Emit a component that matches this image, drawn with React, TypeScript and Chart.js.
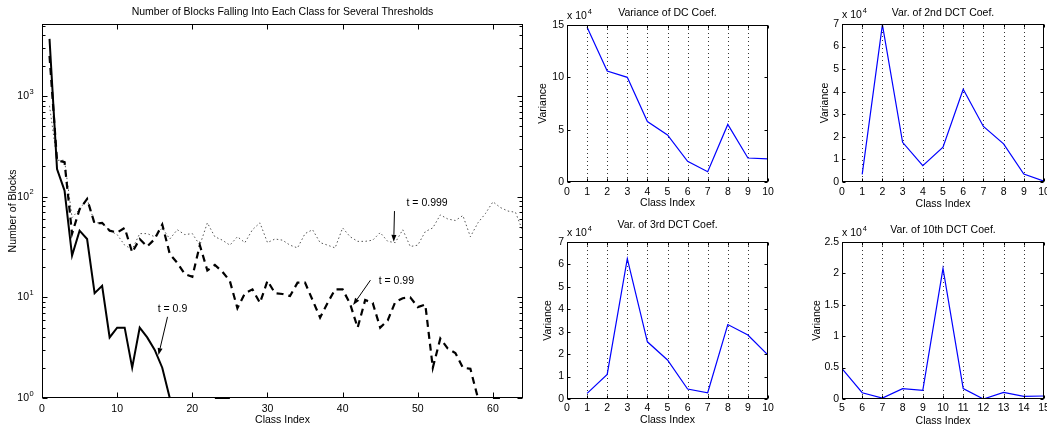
import React, { useEffect, useRef } from 'react';
import { Chart, registerables } from 'chart.js';

Chart.register(...registerables);

const FONT = "'Liberation Sans', Arial, Helvetica, sans-serif";
const FS = 10.5;
Chart.defaults.font.family = FONT;
Chart.defaults.font.size = FS;
Chart.defaults.color = '#000';

// ---------- main plot data ----------
const mainClassIndex = [
  1, 2, 3, 4, 5, 6, 7, 8, 9, 10, 11, 12, 13, 14, 15, 16, 17, 18, 19, 20, 21, 22, 23, 24, 25, 26, 27, 28, 29, 30, 31, 32,
  33, 34, 35, 36, 37, 38, 39, 40, 41, 42, 43, 44, 45, 46, 47, 48, 49, 50, 51, 52, 53, 54, 55, 56, 57, 58, 59, 60, 61, 62, 63, 64,
];
const blocksT09: (number | null)[] = [
  3700, 188, 115, 26, 46, 38, 11, 13, 4, 5, 5, 2, 5, 4, 3, 2, 1, null, null, null, null, null, 1, 1, 1, null, null, null, null, null, null, null,
  null, null, null, null, null, null, null, null, null, null, null, null, null, null, null, null, null, null, null, null, null, null, null, null, null, null, null, null, null, null, null, null,
];
const blocksT099: (number | null)[] = [
  2500, 230, 220, 43, 75, 95, 54, 55, 46, 44, 49, 28, 38, 32, 38, 53, 27, 22, 17, 16, 33, 18.5, 21, 18, 14.5, 7.8, 11, 12, 8.8, 14.6, 11, 10.8,
  10.3, 14, 14, 9.4, 6.3, 8.8, 12, 12, 8.6, 5, 9.4, 8.8, 5, 5.9, 9, 9.8, 10, 8, 8.5, 2, 3.9, 3.1, 2.8, 2, 1.95, 1, null, 1, 1, null, null, null,
];
const blocksT0999: (number | null)[] = [
  800, 230, 230, 62, 75, 95, 55, 55, 46, 42, 33, 30, 43, 43, 40, 49, 38, 47, 42, 43, 33, 55, 40, 37, 33, 40, 35, 47, 55, 35, 38, 37,
  33, 31, 43, 47, 35, 33, 31, 49, 40, 36, 36, 37, 44, 36, 35, 47, 32, 33, 45, 49, 66, 60, 58, 65, 40, 55, 68, 89, 78, 72, 70, 45,
];
const mainXTicks = [0, 10, 20, 30, 40, 50, 60];
const mainYTicks = [1, 10, 100, 1000];
const mainYTickBase = '10';
const mainYTickExponents = ['0', '1', '2', '3'];
const mainYMinorMultipliers = [2, 3, 4, 5, 6, 7, 8, 9];

// ---------- small plots data ----------
const classIdx1to10 = [1, 2, 3, 4, 5, 6, 7, 8, 9, 10];
const classIdx5to15 = [5, 6, 7, 8, 9, 10, 11, 12, 13, 14, 15];
const dcVariance = [147800, 106000, 100000, 57800, 45000, 19700, 9800, 55000, 22900, 22000];
const dct2Variance = [3400, 69700, 17600, 7250, 15400, 41100, 24600, 16900, 3550, 400];
const dct3Variance = [2500, 11000, 62600, 25500, 17400, 4450, 2800, 33200, 28500, 19600];
const dct10Variance = [4840, 1000, 160, 1650, 1380, 20800, 1650, 0, 1060, 430, 480];
const xTicks0to10 = [0, 1, 2, 3, 4, 5, 6, 7, 8, 9, 10];
const xTicks5to15 = [5, 6, 7, 8, 9, 10, 11, 12, 13, 14, 15];
const yTicksDC = [0, 50000, 100000, 150000];
const yTicks7 = [0, 10000, 20000, 30000, 40000, 50000, 60000, 70000];
const yTicks25 = [0, 5000, 10000, 15000, 20000, 25000];
const yScaleText = 'x 10';
const yScaleExp = '4';

type Ann = { text: string; tx: number; ty: number; x0: number; y0: number; x1: number; y1: number };
const mainAnnotations: Ann[] = [
  { text: 't = 0.999', tx: 48.5, ty: 86, x0: 46.9, y0: 72, x1: 46.8, y1: 35.6 },
  { text: 't = 0.99', tx: 44.8, ty: 14.6, x0: 43.7, y0: 14.8, x1: 41.4, y1: 8.4 },
  { text: 't = 0.9', tx: 15.4, ty: 7.65, x0: 16.7, y0: 6.4, x1: 15.5, y1: 2.67 },
];

type FrameOpts = {
  grid?: boolean;
  minorLog?: boolean;
  logExpPad?: number;
  scaleNote?: boolean;
  annotations?: Ann[];
  tickLen?: number;
};

function makeFrame(o: FrameOpts) {
  return {
    id: 'frame',
    beforeDatasetsDraw(chart: any) {
      if (!o.grid) return;
      const { ctx, chartArea: a, scales } = chart;
      const xs = scales.x;
      ctx.save();
      ctx.strokeStyle = '#333';
      ctx.lineWidth = 1;
      ctx.setLineDash([1, 3]);
      xs.ticks.forEach((t: any) => {
        const px = Math.round(xs.getPixelForValue(t.value)) + 0.5;
        if (px <= a.left + 1 || px >= a.right - 1) return;
        ctx.beginPath();
        ctx.moveTo(px, a.top);
        ctx.lineTo(px, a.bottom);
        ctx.stroke();
      });
      ctx.restore();
    },
    afterDatasetsDraw(chart: any) {
      const { ctx, chartArea: a, scales } = chart;
      const xs = scales.x;
      const ys = scales.y;
      const L = o.tickLen ?? 3;
      ctx.save();
      ctx.strokeStyle = '#000';
      ctx.lineWidth = 1;
      ctx.setLineDash([]);
      const l = Math.round(a.left) + 0.5;
      const r = Math.round(a.right) - 0.5;
      const t = Math.round(a.top) + 0.5;
      const b = Math.round(a.bottom) - 0.5;
      ctx.strokeRect(l, t, r - l, b - t);
      ctx.beginPath();
      xs.ticks.forEach((tk: any) => {
        const px = Math.round(xs.getPixelForValue(tk.value)) + 0.5;
        ctx.moveTo(px, b);
        ctx.lineTo(px, b - L);
        ctx.moveTo(px, t);
        ctx.lineTo(px, t + L);
      });
      ys.ticks.forEach((tk: any) => {
        const py = Math.round(ys.getPixelForValue(tk.value)) + 0.5;
        ctx.moveTo(l, py);
        ctx.lineTo(l + L, py);
        ctx.moveTo(r, py);
        ctx.lineTo(r - L, py);
      });
      if (o.minorLog) {
        mainYTicks.forEach((d) => {
          mainYMinorMultipliers.forEach((m) => {
            const v = d * m;
            if (v > ys.max) return;
            const py = Math.round(ys.getPixelForValue(v)) + 0.5;
            ctx.moveTo(l, py);
            ctx.lineTo(l + L * 0.6, py);
            ctx.moveTo(r, py);
            ctx.lineTo(r - L * 0.6, py);
          });
        });
      }
      ctx.stroke();
      ctx.fillStyle = '#000';
      ctx.textBaseline = 'middle';
      if (o.minorLog && o.logExpPad !== undefined) {
        ctx.font = `7.5px ${FONT}`;
        ctx.textAlign = 'left';
        mainYTicks.forEach((v, i) => {
          const py = ys.getPixelForValue(v);
          ctx.fillText(mainYTickExponents[i], a.left - o.logExpPad! + 0.5, py - 4.5);
        });
      }
      if (o.scaleNote) {
        ctx.textAlign = 'left';
        ctx.font = `${FS}px ${FONT}`;
        const y = a.top - 9;
        ctx.fillText(yScaleText, a.left, y);
        const w = ctx.measureText(yScaleText).width;
        ctx.font = `7.5px ${FONT}`;
        ctx.fillText(yScaleExp, a.left + w + 1, y - 4);
      }
      ctx.font = `${FS}px ${FONT}`;
      (o.annotations || []).forEach((an) => {
        ctx.textAlign = 'left';
        ctx.textBaseline = 'middle';
        ctx.fillText(an.text, xs.getPixelForValue(an.tx), ys.getPixelForValue(an.ty));
        const x0 = xs.getPixelForValue(an.x0);
        const y0 = ys.getPixelForValue(an.y0);
        const x1 = xs.getPixelForValue(an.x1);
        const y1 = ys.getPixelForValue(an.y1);
        const ang = Math.atan2(y1 - y0, x1 - x0);
        const hl = 7;
        const hw = 2.5;
        const bx = x1 - hl * Math.cos(ang);
        const by = y1 - hl * Math.sin(ang);
        ctx.beginPath();
        ctx.moveTo(x0, y0);
        ctx.lineTo(bx, by);
        ctx.stroke();
        ctx.beginPath();
        ctx.moveTo(x1, y1);
        ctx.lineTo(bx + hw * Math.sin(ang), by - hw * Math.cos(ang));
        ctx.lineTo(bx - hw * Math.sin(ang), by + hw * Math.cos(ang));
        ctx.closePath();
        ctx.fill();
      });
      ctx.restore();
    },
  };
}

const fixBox = (w?: number, h?: number) => (s: any) => {
  if (w !== undefined) s.width = w;
  if (h !== undefined) s.height = h;
  s.paddingLeft = 0;
  s.paddingRight = 0;
  s.paddingTop = 0;
  s.paddingBottom = 0;
};

const setTicks = (vals: number[]) => (s: any) => {
  s.ticks = vals.map((v) => ({ value: v }));
};

const fontN = { size: FS, family: FONT, weight: 'normal' as const };

const MAIN_EXP_PAD = 13;

function mainConfig(): any {
  const pts = (arr: (number | null)[]) => mainClassIndex.map((x, i) => ({ x, y: arr[i] }));
  return {
    type: 'line',
    data: {
      datasets: [
        { label: 't = 0.9', data: pts(blocksT09), borderColor: '#000', borderWidth: 2, pointRadius: 0, tension: 0, spanGaps: false, clip: 2 },
        { label: 't = 0.99', data: pts(blocksT099), borderColor: '#000', borderWidth: 2.2, borderDash: [7, 5], pointRadius: 0, tension: 0, spanGaps: false, clip: 2 },
        { label: 't = 0.999', data: pts(blocksT0999), borderColor: '#555', borderWidth: 1, borderDash: [1.5, 2.5], pointRadius: 0, tension: 0, spanGaps: false },
      ],
    },
    options: {
      responsive: false,
      animation: false,
      layout: { padding: { left: 0, top: 0, bottom: 0, right: 7 } },
      plugins: {
        legend: { display: false },
        tooltip: { enabled: false },
        title: {
          display: true,
          fullSize: false,
          text: 'Number of Blocks Falling Into Each Class for Several Thresholds',
          font: fontN,
          color: '#000',
          padding: { top: 5.7, bottom: 5.7 },
        },
      },
      scales: {
        x: {
          type: 'linear',
          min: 0,
          max: 64,
          afterBuildTicks: setTicks(mainXTicks),
          afterFit: fixBox(undefined, 29),
          grid: { display: false, drawTicks: false },
          border: { display: false },
          ticks: { autoSkip: false, maxRotation: 0, padding: 5, font: fontN, color: '#000' },
          title: { display: true, text: 'Class Index', font: fontN, color: '#000', padding: { top: 0, bottom: 0.7 } },
        },
        y: {
          type: 'logarithmic',
          min: 1,
          max: 5200,
          afterBuildTicks: setTicks(mainYTicks),
          afterFit: fixBox(42, undefined),
          grid: { display: false, drawTicks: false },
          border: { display: false },
          ticks: {
            autoSkip: false,
            padding: MAIN_EXP_PAD,
            font: fontN,
            color: '#000',
            callback: (v: number) => (mainYTicks.indexOf(v) >= 0 ? mainYTickBase : ''),
          },
          title: { display: true, text: 'Number of Blocks', font: fontN, color: '#000', padding: { top: 7.2, bottom: 0 } },
        },
      },
    },
    plugins: [makeFrame({ minorLog: true, logExpPad: MAIN_EXP_PAD, annotations: mainAnnotations, tickLen: 5 })],
  };
}

type SmallOpts = {
  title: string;
  xs: number[];
  ys: number[];
  xMin: number;
  xMax: number;
  xTicks: number[];
  yMax: number;
  yTicks: number[];
  yAxisWidth: number;
  xAxisHeight: number;
  padRight: number;
  titlePad: { top: number; bottom: number };
  yTitlePad: number;
  xTitlePad: number;
  xTickPad: number;
  yTickPad: number;
};

function smallConfig(s: SmallOpts): any {
  return {
    type: 'line',
    data: {
      datasets: [
        {
          label: s.title,
          data: s.xs.map((x, i) => ({ x, y: s.ys[i] })),
          borderColor: '#0000ff',
          borderWidth: 1.2,
          pointRadius: 0,
          tension: 0,
        },
      ],
    },
    options: {
      responsive: false,
      animation: false,
      layout: { padding: { left: 0, top: 0, bottom: 0, right: s.padRight } },
      plugins: {
        legend: { display: false },
        tooltip: { enabled: false },
        title: { display: true, fullSize: false, text: s.title, font: fontN, color: '#000', padding: s.titlePad },
      },
      scales: {
        x: {
          type: 'linear',
          min: s.xMin,
          max: s.xMax,
          afterBuildTicks: setTicks(s.xTicks),
          afterFit: fixBox(undefined, s.xAxisHeight),
          grid: { display: false, drawTicks: false },
          border: { display: false },
          ticks: { autoSkip: false, maxRotation: 0, padding: s.xTickPad, font: fontN, color: '#000' },
          title: { display: true, text: 'Class Index', font: fontN, color: '#000', padding: { top: 0, bottom: s.xTitlePad } },
        },
        y: {
          type: 'linear',
          min: 0,
          max: s.yMax,
          afterBuildTicks: setTicks(s.yTicks),
          afterFit: fixBox(s.yAxisWidth, undefined),
          grid: { display: false, drawTicks: false },
          border: { display: false },
          ticks: {
            autoSkip: false,
            padding: s.yTickPad,
            font: fontN,
            color: '#000',
            callback: (v: number) => String(Math.round((v / 1e4) * 100) / 100),
          },
          title: { display: true, text: 'Variance', font: fontN, color: '#000', padding: { top: s.yTitlePad, bottom: 0 } },
        },
      },
    },
    plugins: [makeFrame({ grid: true, scaleNote: true, tickLen: 3 })],
  };
}

function ChartBox(props: { left: number; top: number; width: number; height: number; make: () => any }) {
  const ref = useRef<HTMLCanvasElement>(null);
  useEffect(() => {
    const chart = new Chart(ref.current as HTMLCanvasElement, props.make());
    return () => chart.destroy();
  }, []);
  return (
    <canvas
      ref={ref}
      width={props.width}
      height={props.height}
      style={{ position: 'absolute', left: props.left, top: props.top, width: props.width, height: props.height }}
    />
  );
}

export default function App() {
  return (
    <div style={{ position: 'fixed', left: 0, top: 0, width: 1047, height: 427, background: '#fff', overflow: 'hidden' }}>
      <ChartBox left={0} top={0} width={530} height={427} make={mainConfig} />
      <ChartBox
        left={530}
        top={0}
        width={250}
        height={212}
        make={() =>
          smallConfig({
            title: 'Variance of DC Coef.',
            xs: classIdx1to10,
            ys: dcVariance,
            xMin: 0,
            xMax: 10,
            xTicks: xTicks0to10,
            yMax: 150000,
            yTicks: yTicksDC,
            yAxisWidth: 37,
            xAxisHeight: 30,
            padRight: 12,
            titlePad: { top: 6.7, bottom: 5.7 },
            yTitlePad: 6.4,
            xTitlePad: 2.5,
            xTickPad: 4,
            yTickPad: 3,
          })
        }
      />
      <ChartBox
        left={790}
        top={0}
        width={257}
        height={212}
        make={() =>
          smallConfig({
            title: 'Var. of 2nd DCT Coef.',
            xs: classIdx1to10,
            ys: dct2Variance,
            xMin: 0,
            xMax: 10,
            xTicks: xTicks0to10,
            yMax: 70000,
            yTicks: yTicks7,
            yAxisWidth: 52,
            xAxisHeight: 30,
            padRight: 3,
            titlePad: { top: 6.7, bottom: 4.7 },
            yTitlePad: 28.7,
            xTitlePad: 1.7,
            xTickPad: 4,
            yTickPad: 3,
          })
        }
      />
      <ChartBox
        left={530}
        top={212}
        width={250}
        height={215}
        make={() =>
          smallConfig({
            title: 'Var. of 3rd DCT Coef.',
            xs: classIdx1to10,
            ys: dct3Variance,
            xMin: 0,
            xMax: 10,
            xTicks: xTicks0to10,
            yMax: 70000,
            yTicks: yTicks7,
            yAxisWidth: 37,
            xAxisHeight: 28,
            padRight: 12,
            titlePad: { top: 6.7, bottom: 10.7 },
            yTitlePad: 12,
            xTitlePad: 0.7,
            xTickPad: 3,
            yTickPad: 3,
          })
        }
      />
      <ChartBox
        left={790}
        top={212}
        width={257}
        height={215}
        make={() =>
          smallConfig({
            title: 'Var. of 10th DCT Coef.',
            xs: classIdx5to15,
            ys: dct10Variance,
            xMin: 5,
            xMax: 15,
            xTicks: xTicks5to15,
            yMax: 25000,
            yTicks: yTicks25,
            yAxisWidth: 52,
            xAxisHeight: 28,
            padRight: 3,
            titlePad: { top: 11.7, bottom: 5.7 },
            yTitlePad: 20.4,
            xTitlePad: 0,
            xTickPad: 3,
            yTickPad: 3,
          })
        }
      />
    </div>
  );
}
